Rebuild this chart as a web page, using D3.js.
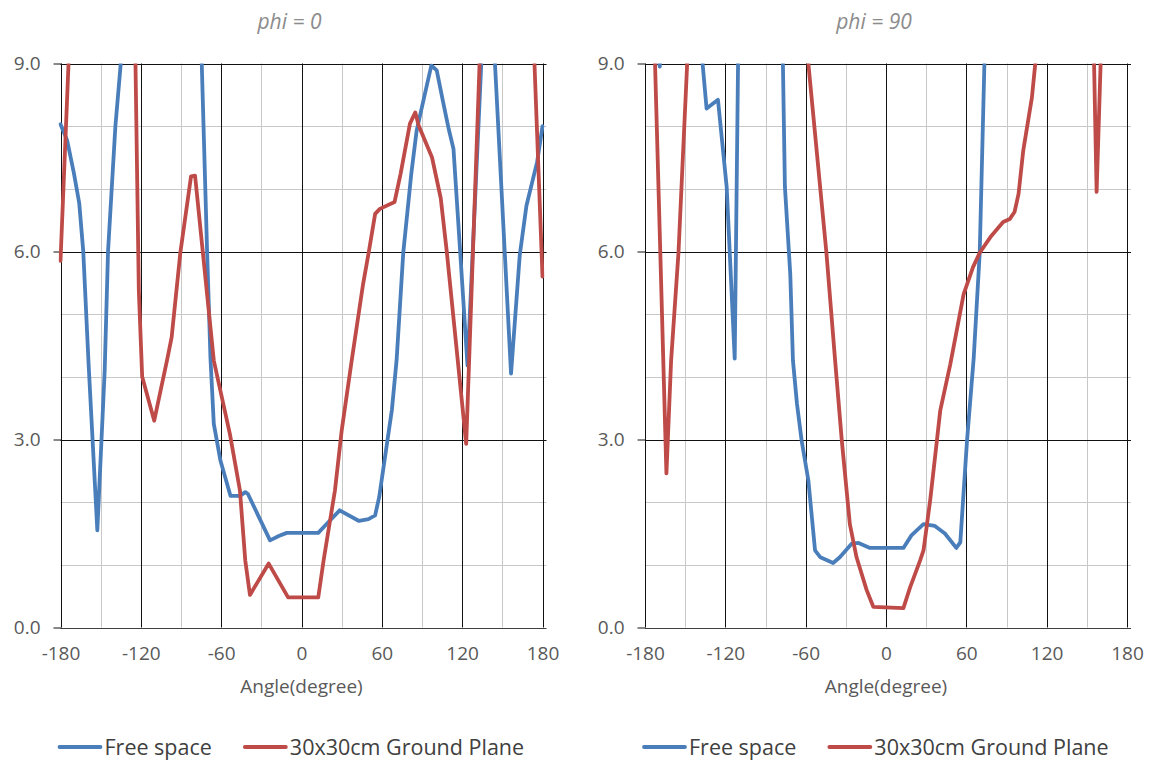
<!DOCTYPE html>
<html>
<head>
<meta charset="utf-8">
<script src="https://cdn.jsdelivr.net/npm/d3@7"></script>
<style>
  body { margin: 0; background: #fff; }
  svg { display: block; }
  text { font-family: "Open Sans", sans-serif; fill: #595959; }
</style>
</head>
<body>
<script>
// axis ticks
var angleTicks = [-180, -120, -60, 0, 60, 120, 180];
var angleMinor = [-150, -90, -30, 30, 90, 150];
var valueTicks = [0, 3, 6, 9];
var valueMinor = [1, 2, 4, 5, 7, 8];

var panelTitles = ["phi = 0", "phi = 90"];
var seriesNames = ["Free space", "30x30cm Ground Plane"];
var seriesColors = ["#4a7ebb", "#be4b48"];

// [angle, value]; values above 9 are off the chart and get clipped
var phi0Free = [
  [-180, 8.03], [-175, 7.77], [-170, 7.25], [-166, 6.77], [-163, 6.0], [-159, 4.2],
  [-152.5, 1.55], [-147, 4.1], [-144.5, 6.0], [-139, 8.0], [-135, 9.0],
  [-128, 10.6], [-105, 13.0], [-80, 10.6], [-74.5, 9.0],
  [-70.5, 6.0], [-68, 4.3], [-65.5, 3.25], [-60.5, 2.66], [-53, 2.1], [-46, 2.1],
  [-42, 2.16], [-40, 2.13], [-23.5, 1.39], [-17, 1.46], [-11, 1.51], [12.5, 1.51],
  [20, 1.68], [28.5, 1.87], [43, 1.70], [50, 1.73], [55, 1.79], [58, 2.08],
  [67.5, 3.47], [71, 4.26], [76, 5.98], [82, 7.24], [86, 7.93], [92, 8.5],
  [97, 8.97], [101, 8.89], [106, 8.36], [110, 7.95], [113.5, 7.64], [118.5, 6.0],
  [124, 4.18], [134.5, 9.1], [139.5, 11.0], [144.5, 9.0], [156.5, 4.05],
  [163, 5.94], [168, 6.73], [176, 7.43], [180, 8.0]
];
var phi0Ground = [
  [-180, 5.85], [-174, 9.0], [-170, 11.2], [-150, 13.5], [-126, 12.0], [-124, 9.0],
  [-121.5, 5.38], [-119, 4.0], [-110, 3.3], [-100.5, 4.26], [-97, 4.63], [-90.5, 5.98],
  [-82.5, 7.2], [-79.5, 7.21], [-68, 4.79], [-65.5, 4.26], [-53.5, 3.09],
  [-46, 2.19], [-42, 1.07], [-38.5, 0.52], [-24.5, 1.02], [-10, 0.48], [12.5, 0.48],
  [16.5, 1.07], [25, 2.19], [30, 3.14], [37.5, 4.26], [46, 5.48], [50, 5.96],
  [55, 6.6], [58.5, 6.68], [69.5, 6.79], [74, 7.24], [81, 8.04], [85, 8.22],
  [87.5, 8.01], [97.5, 7.5], [104, 6.85], [108.5, 6.0], [123, 2.93], [133, 9.0],
  [138, 12.0], [168, 12.0], [174, 9.0], [180, 5.6]
];
var phi90Free = [
  [-180, 11.0], [-175, 10.0], [-169, 8.95], [-164, 10.5], [-150, 12.5], [-140, 10.2],
  [-137, 9.0], [-134, 8.28], [-125.5, 8.42], [-119, 7.03], [-113, 4.29],
  [-110.5, 9.0], [-108, 12.0], [-90, 14.0], [-80, 11.5], [-77, 9.0], [-75.5, 7.03],
  [-71.5, 5.64], [-69.5, 4.26], [-66.5, 3.57], [-63, 2.98], [-58, 2.35], [-53, 1.23],
  [-49, 1.12], [-39.5, 1.03], [-34.5, 1.12], [-25.5, 1.34], [-20.5, 1.35], [-12, 1.27],
  [13, 1.27], [19, 1.47], [28, 1.65], [36.5, 1.62], [44, 1.5], [52.5, 1.27], [55.5, 1.36],
  [60.5, 2.98], [65.5, 4.3], [70, 5.98], [73.5, 9.0], [76, 11.0], [120, 16.0], [180, 11.0]
];
var phi90Ground = [
  [-180, 11.5], [-175, 10.9], [-172.5, 9.0], [-164, 2.46], [-160.5, 4.26], [-155, 5.98],
  [-148.5, 9.0], [-140, 12.5], [-100, 15.0], [-64, 11.5], [-58, 9.0], [-44.5, 5.98],
  [-38, 4.26], [-33, 2.98], [-27, 1.65], [-22, 1.12], [-14.5, 0.6], [-9.5, 0.33],
  [13, 0.31], [18, 0.64], [25.5, 1.07], [28, 1.23], [33, 2.03], [38, 2.98], [40.5, 3.46],
  [48, 4.2], [58, 5.32], [65, 5.75], [70, 5.98], [78, 6.23], [87.5, 6.47], [92.5, 6.52],
  [96, 6.63], [99, 6.92], [102.5, 7.61], [109, 8.46], [111.5, 9.0], [114, 10.5],
  [150, 12.0], [154, 10.5], [155.4, 9.0], [157.3, 6.95], [160.3, 9.0], [162, 10.1],
  [180, 11.0]
];

var panels = [
  {title: panelTitles[0], left: 60.5, series: [phi0Free, phi0Ground]},
  {title: panelTitles[1], left: 645, series: [phi90Free, phi90Ground]}
];

var width = 1152, height = 760;
var plotW = 482, plotTop = 63.5, plotBottom = 627.5;

var svg = d3.select("body").append("svg")
    .attr("width", width)
    .attr("height", height);

panels.forEach(function(p, i) {
  var x = d3.scaleLinear().domain([-180, 180]).range([p.left, p.left + plotW]);
  var y = d3.scaleLinear().domain([0, 9]).range([plotBottom, plotTop]);
  var g = svg.append("g");

  // minor grid
  g.selectAll(".hmin").data(valueMinor).enter().append("line")
      .attr("x1", x(-180)).attr("x2", x(180) + 4)
      .attr("y1", function(d) { return Math.round(y(d)) + 0.5; })
      .attr("y2", function(d) { return Math.round(y(d)) + 0.5; })
      .attr("stroke", "#c8c8c8");
  g.selectAll(".vmin").data(angleMinor).enter().append("line")
      .attr("x1", function(d) { return Math.round(x(d)) + 0.5; })
      .attr("x2", function(d) { return Math.round(x(d)) + 0.5; })
      .attr("y1", y(0)).attr("y2", y(9))
      .attr("stroke", "#c8c8c8");

  // major grid
  g.selectAll(".vmaj").data(angleTicks).enter().append("line")
      .attr("x1", function(d) { return Math.round(x(d)) + 0.5; })
      .attr("x2", function(d) { return Math.round(x(d)) + 0.5; })
      .attr("y1", y(0)).attr("y2", y(9))
      .attr("stroke", "#111");
  g.selectAll(".hmaj").data(valueTicks).enter().append("line")
      .attr("x1", x(-180)).attr("x2", x(180) + 4)
      .attr("y1", function(d) { return Math.round(y(d)) + 0.5; })
      .attr("y2", function(d) { return Math.round(y(d)) + 0.5; })
      .attr("stroke", function(d) { return d === 0 ? "#404040" : "#111"; });

  // axes
  var yAxis = g.append("g")
      .attr("transform", "translate(" + (Math.round(x(-180)) + 0.5) + ",0)")
      .call(d3.axisLeft(y).tickValues(valueTicks).tickFormat(d3.format(".1f"))
        .tickSize(8).tickSizeOuter(0).tickPadding(13));
  yAxis.select(".domain").remove();
  yAxis.selectAll(".tick line").attr("stroke", "#111");
  yAxis.selectAll("text").style("font-size", "19px").attr("fill", "#595959");

  var xAxis = g.append("g")
      .attr("transform", "translate(0," + plotBottom + ")")
      .call(d3.axisBottom(x).tickValues(angleTicks)
        .tickFormat(function(d) { return String(d); })
        .tickSize(0).tickPadding(19));
  xAxis.select(".domain").remove();
  xAxis.selectAll("text").style("font-size", "19px").attr("fill", "#595959");

  g.append("text")
      .attr("x", p.left + plotW / 2)
      .attr("y", 693)
      .attr("text-anchor", "middle")
      .style("font-size", "19px")
      .text("Angle(degree)");

  g.append("text")
      .attr("x", p.left + plotW / 2 - 12)
      .attr("y", 29)
      .attr("text-anchor", "middle")
      .style("font-size", "21px")
      .style("font-style", "italic")
      .style("fill", "#8c8c8c")
      .text(p.title);

  // data lines, clipped to the plot area
  var clipId = "clip" + i;
  svg.append("clipPath").attr("id", clipId)
    .append("rect")
      .attr("x", x(-180) - 2).attr("y", y(9))
      .attr("width", plotW + 4).attr("height", y(0) - y(9) + 3);

  var line = d3.line()
      .x(function(d) { return x(d[0]); })
      .y(function(d) { return y(d[1]); });

  g.append("g").attr("clip-path", "url(#" + clipId + ")")
    .selectAll("path").data(p.series).enter().append("path")
      .attr("d", line)
      .attr("fill", "none")
      .attr("stroke", function(d, k) { return seriesColors[k]; })
      .attr("stroke-width", 3.8)
      .attr("stroke-linejoin", "round")
      .attr("stroke-linecap", "round");

  // legend
  var lg = g.append("g").attr("transform", "translate(" + (p.left - 1) + ",747)");
  var pos = 0;
  seriesNames.forEach(function(name, k) {
    lg.append("line")
        .attr("x1", pos).attr("x2", pos + 41)
        .attr("stroke", seriesColors[k])
        .attr("stroke-width", 3.8)
        .attr("stroke-linecap", "round");
    var t = lg.append("text")
        .attr("x", pos + 45)
        .attr("y", 7.5)
        .style("font-size", "21.5px")
        .style("fill", "#404040")
        .text(name);
    pos = pos + 45 + t.node().getComputedTextLength() + 33;
  });
});
</script>
</body>
</html>
